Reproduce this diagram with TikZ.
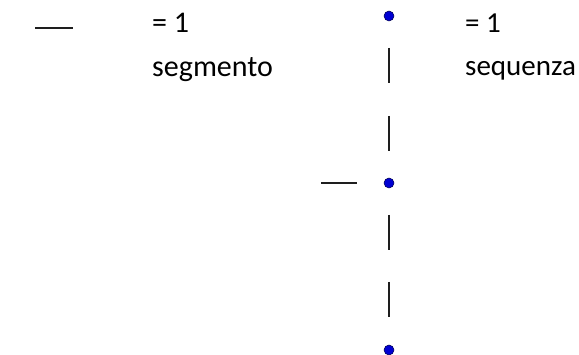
\documentclass[tikz,border=0pt]{standalone}
\usepackage{fontspec}
\setmainfont{Carlito}
\definecolor{dotblue}{RGB}{0,0,210}
\definecolor{seg}{RGB}{30,30,30}
\tikzset{
  seg/.style={draw=seg, line width=2.8pt},
  pt/.style={circle, fill=dotblue, draw=black!70!blue, line width=0.5pt, minimum size=10pt, inner sep=0pt},
  lbl/.style={anchor=base west, inner sep=0pt, font=\fontsize{30}{34}\selectfont},
  lblr/.style={anchor=base west, inner sep=0pt, font=\fontsize{29}{33}\selectfont}
}
\begin{document}
\begin{tikzpicture}[x=1pt,y=-1pt]
\useasboundingbox (0,0) rectangle (579,355);
% legend left
\coordinate (l1) at (35,28);
\coordinate (l2) at (73,28);
\draw[seg] (l1) -- (l2);
\node[lbl] (eq1) at (152,33) {= 1};
\node[lbl] (segm) at (152,77) {segmento};
% dots
\node[pt] (d1) at (389,16) {};
\node[pt] (d2) at (389,183) {};
\node[pt] (d3) at (389,350) {};
% vertical segments
\coordinate (a1) at (389,48); \coordinate (a2) at (389,83);
\coordinate (b1) at (389,116); \coordinate (b2) at (389,151);
\coordinate (c1) at (389,215); \coordinate (c2) at (389,250);
\coordinate (e1) at (389,282); \coordinate (e2) at (389,317);
\draw[seg] (a1) -- (a2);
\draw[seg] (b1) -- (b2);
\draw[seg] (c1) -- (c2);
\draw[seg] (e1) -- (e2);
% horizontal segment
\coordinate (h1) at (321,183); \coordinate (h2) at (357,183);
\draw[seg] (h1) -- (h2);
% right labels
\node[lblr] (eq2) at (465,33) {= 1};
\node[lblr] (seq) at (465,76) {sequenza};
\end{tikzpicture}
\end{document}
